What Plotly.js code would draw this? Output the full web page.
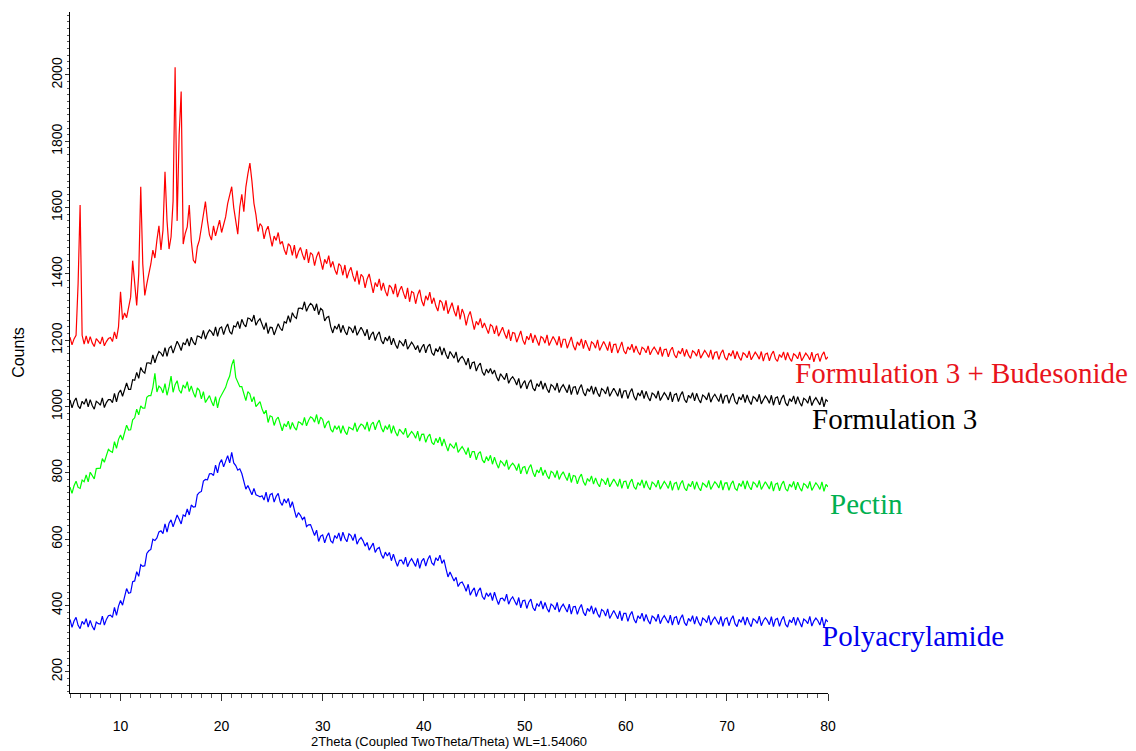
<!DOCTYPE html>
<html>
<head>
<meta charset="utf-8">
<script src="https://cdn.plot.ly/plotly-3.0.1.min.js"></script>
<style>
  html, body { margin: 0; padding: 0; background: #ffffff; }
  #chart { width: 1136px; height: 751px; }
</style>
</head>
<body>
<div id="chart"></div>
<script>
// 2-theta scan grid (degrees), one reading every 0.2 degree from 5 to 80
const twoThetaStart = 5;
const twoThetaStep = 0.2;

const seriesNames = ["Formulation 3 + Budesonide", "Formulation 3", "Pectin", "Polyacrylamide"];

// Counts (one row group per degree: x.0, x.2, x.4, x.6, x.8)
const formulation3Budesonide = [
  1209,1186,1204,1215,1370, 1608,1215,1188,1213,1190, 1211,1192,1181,1205,1197, 1189,1210,1183,1196,1205,
  1208,1196,1225,1204,1240, 1346,1262,1282,1268,1302, 1330,1440,1380,1305,1400, 1663,1430,1335,1370,1398,
  1430,1472,1448,1502,1545, 1472,1532,1708,1560,1475, 1512,1620,2023,1560,1820, 1950,1490,1522,1542,1608,
  1500,1442,1432,1482,1502, 1540,1582,1618,1560,1518, 1502,1545,1515,1538,1562, 1525,1548,1572,1612,1642,
  1663,1600,1558,1520,1602, 1640,1588,1662,1702,1734, 1680,1613,1578,1528,1552, 1543,1506,1531,1544,1511,
  1483,1514,1501,1525,1490, 1498,1473,1458,1491,1484, 1456,1487,1447,1467,1480, 1459,1442,1475,1433,1464,
  1458,1425,1452,1467,1434, 1413,1444,1431,1455,1420, 1438,1413,1398,1431,1424, 1396,1427,1387,1407,1420,
  1394,1377,1410,1368,1399, 1391,1358,1385,1400,1367, 1343,1374,1361,1385,1350, 1373,1348,1333,1366,1359,
  1339,1370,1330,1350,1363, 1342,1325,1358,1316,1347, 1343,1310,1337,1352,1319, 1303,1334,1321,1345,1310,
  1328,1303,1288,1321,1314, 1289,1320,1280,1300,1313, 1289,1272,1305,1263,1294, 1278,1245,1272,1287,1254,
  1232,1257,1246,1266,1237, 1252,1233,1220,1247,1242, 1219,1244,1212,1228,1239, 1220,1205,1232,1198,1223,
  1221,1194,1215,1228,1201, 1187,1212,1201,1221,1192, 1216,1197,1184,1211,1206, 1191,1216,1184,1200,1211,
  1200,1185,1212,1178,1203, 1203,1176,1197,1210,1183, 1170,1195,1184,1204,1175, 1200,1181,1168,1195,1190,
  1176,1201,1169,1185,1196, 1184,1169,1196,1162,1187, 1188,1161,1182,1195,1168, 1159,1180,1171,1188,1163,
  1183,1166,1156,1179,1174, 1162,1183,1156,1170,1179, 1169,1157,1180,1151,1172, 1173,1150,1169,1179,1156,
  1147,1168,1159,1176,1151, 1172,1155,1145,1168,1163, 1152,1173,1146,1160,1169, 1160,1148,1171,1142,1163,
  1165,1142,1161,1171,1148, 1140,1161,1152,1169,1144, 1166,1149,1139,1162,1157, 1147,1168,1141,1155,1164,
  1155,1143,1166,1137,1158, 1161,1138,1157,1167,1144, 1136,1157,1148,1165,1140, 1163,1146,1136,1159,1154,
  1144,1165,1138,1152,1161, 1153,1141,1164,1135,1156, 1159,1136,1155,1165,1142, 1150
];

const formulation3 = [
  1020,996,1015,1026,1002, 994,1016,1007,1024,999, 1021,1003,992,1016,1011, 1004,1026,997,1012,1021,
  1021,1012,1040,1014,1040, 1050,1031,1055,1071,1052, 1052,1081,1079,1103,1085, 1118,1106,1101,1131,1132,
  1129,1156,1132,1152,1166, 1161,1151,1178,1151,1176, 1182,1161,1183,1197,1185, 1169,1193,1186,1205,1182,
  1209,1194,1186,1213,1211, 1206,1230,1203,1220,1231, 1225,1214,1240,1212,1236, 1240,1217,1237,1249,1226,
  1218,1243,1240,1257,1235, 1263,1248,1240,1267,1265, 1256,1276,1245,1258,1265, 1248,1232,1253,1220,1239,
  1238,1216,1237,1250,1236, 1229,1256,1252,1274,1254, 1283,1271,1266,1296,1297, 1294,1316,1287,1302,1311,
  1305,1289,1310,1277,1296, 1290,1258,1269,1272,1240, 1222,1243,1233,1249,1223, 1245,1227,1216,1240,1235,
  1222,1244,1215,1230,1239, 1228,1213,1233,1201,1217, 1225,1199,1216,1225,1199, 1189,1209,1198,1213,1186,
  1206,1187,1175,1198,1192, 1182,1203,1173,1185,1194, 1185,1171,1184,1163,1178, 1188,1162,1181,1188,1162,
  1154,1175,1165,1181,1155, 1177,1157,1144,1166,1156, 1146,1165,1133,1145,1151, 1141,1125,1146,1113,1132,
  1134,1107,1123,1131,1104, 1094,1113,1101,1115,1098, 1110,1090,1077,1099,1089, 1081,1101,1070,1083,1090,
  1080,1065,1085,1055,1069, 1078,1053,1071,1081,1056, 1047,1069,1060,1077,1052, 1071,1053,1042,1066,1061,
  1049,1071,1042,1057,1066, 1055,1042,1066,1036,1058, 1060,1036,1055,1066,1042, 1032,1054,1045,1062,1037,
  1059,1041,1030,1054,1049, 1038,1060,1031,1046,1055, 1044,1031,1055,1025,1047, 1048,1024,1043,1054,1030,
  1019,1041,1032,1049,1024, 1046,1028,1017,1041,1036, 1025,1047,1018,1033,1042, 1033,1020,1044,1014,1036,
  1039,1015,1034,1045,1021, 1012,1034,1025,1042,1017, 1040,1022,1011,1035,1030, 1020,1042,1013,1028,1037,
  1028,1015,1039,1009,1031, 1034,1010,1029,1040,1016, 1007,1029,1020,1037,1012, 1035,1017,1006,1030,1025,
  1015,1037,1008,1023,1032, 1023,1010,1034,1004,1026, 1029,1005,1024,1035,1011, 1002,1024,1015,1032,1007,
  1030,1012,1001,1025,1020, 1010,1032,1003,1018,1027, 1018,1005,1029,999,1021, 1015
];

const pectin = [
  757,738,761,775,756, 753,778,773,794,773, 802,791,782,813,814, 814,843,832,852,871,
  865,862,894,874,901, 914,899,926,944,929, 930,960,966,992,975, 1002,995,995,1028,1033,
  1033,1058,1100,1044,1062, 1056,1041,1069,1034,1059, 1092,1043,1066,1078,1050, 1040,1065,1055,1075,1045,
  1062,1042,1028,1056,1049, 1023,1045,1012,1024,1033, 1015,1002,1030,996,1024, 1035,1048,1058,1078,1092,
  1125,1142,1088,1076,1060, 1060,1035,1018,1045,1038, 1014,1030,1000,1009,1015, 993,978,989,952,972,
  969,943,961,968,943, 927,948,939,956,931, 952,937,929,954,951, 944,967,942,958,969,
  965,953,976,947,968, 961,935,950,957,931, 923,942,931,942,919, 942,925,915,938,933,
  930,951,924,938,947, 943,931,954,925,946, 953,930,949,959,936, 923,942,931,946,919,
  942,923,911,932,925, 916,935,906,916,925, 917,904,926,896,916, 917,892,909,917,892,
  885,904,891,908,881, 902,883,866,888,881, 874,892,862,871,879, 869,855,876,845,864,
  864,839,858,864,839, 830,849,836,853,826, 847,828,814,836,830, 820,839,810,822,829,
  821,807,828,797,816, 819,796,815,825,802, 788,809,800,817,792, 809,792,782,805,800,
  786,807,780,794,803, 789,777,800,771,792, 790,767,786,796,773, 762,783,774,791,766,
  785,768,758,781,776, 764,785,758,772,781, 771,759,782,753,774, 775,752,771,781,758,
  750,771,762,779,754, 776,759,749,772,767, 757,778,751,765,774, 765,753,776,747,768,
  771,748,767,777,754, 746,767,758,775,750, 773,756,746,769,764, 756,777,750,764,773,
  766,754,777,748,769, 770,747,766,776,753, 747,768,759,776,751, 776,759,749,772,767,
  756,777,750,764,773, 763,751,774,745,766, 769,746,765,775,752, 745,766,757,774,749,
  772,755,745,768,763, 753,774,747,761,770, 762,750,773,744,765, 758
];

const polyacrylamide = [
  358,334,353,364,340, 330,352,343,360,335, 355,337,326,350,345, 344,368,341,358,369,
  371,364,394,370,398, 415,401,430,451,437, 439,472,474,502,488, 523,518,520,557,565,
  569,600,596,604,622, 625,617,646,621,648, 658,637,659,673,660, 646,673,669,691,673,
  703,697,698,734,741, 744,775,780,779,797, 798,792,823,800,829, 840,818,839,852,830,
  862,830,822,808,812, 798,771,751,762,749, 734,753,734,731,728, 731,718,742,712,734,
  738,712,729,738,712, 702,721,709,723,695, 713,688,665,680,672, 659,667,638,643,644,
  628,611,627,593,609, 613,589,608,619,595, 589,611,602,619,594, 621,603,592,616,611,
  596,616,585,598,605, 595,579,590,567,580, 588,560,571,575,554, 542,561,549,560,535,
  555,535,518,536,537, 524,546,517,532,541, 531,518,542,512,534, 542,519,539,551,528,
  522,544,535,552,527, 538,511,486,501,489, 474,485,457,468,471, 459,443,464,431,444,
  453,427,444,453,427, 418,438,427,438,415, 440,420,403,421,422, 413,434,404,418,426,
  415,401,424,393,414, 416,391,410,419,394, 384,406,397,414,389, 409,391,380,404,399,
  387,409,380,395,404, 393,380,404,374,396, 397,373,392,403,379, 369,391,382,399,374,
  393,375,364,388,383, 368,390,361,376,385, 373,360,384,354,376, 376,352,371,382,358,
  347,369,360,377,352, 373,355,344,368,363, 352,374,345,360,369, 360,347,371,341,363,
  366,342,361,372,348, 339,361,352,369,344, 367,349,338,362,357, 348,370,341,356,365,
  356,343,367,337,359, 363,339,358,369,345, 336,358,349,366,341, 365,347,336,360,355,
  346,368,339,354,363, 355,342,366,336,358, 361,337,356,367,343, 335,357,348,365,340,
  364,346,335,359,354, 345,367,338,353,362, 354,341,365,335,357, 351
];

const lineColors = ["#ff0000", "#000000", "#00ff00", "#0000ff"];
const labelColors = ["#e8141c", "#000000", "#00b050", "#0000ee"];

function grid(n) {
  const xs = [];
  for (let i = 0; i < n; i++) xs.push(Math.round((twoThetaStart + i * twoThetaStep) * 100) / 100);
  return xs;
}

const allSeries = [formulation3Budesonide, formulation3, pectin, polyacrylamide];
const traces = allSeries.map((ys, k) => ({
  type: "scatter",
  mode: "lines",
  name: seriesNames[k],
  x: grid(ys.length),
  y: ys,
  line: { color: lineColors[k], width: 1.2 },
  hoverinfo: "x+y+name"
}));

const labelPos = [
  { x: 0.9535, y: 0.470 },
  { x: 0.976, y: 0.402 },
  { x: 0.9996, y: 0.2775 },
  { x: 0.990, y: 0.0837 }
];

const annotations = seriesNames.map((name, k) => ({
  text: name,
  xref: "paper", yref: "paper",
  x: labelPos[k].x, y: labelPos[k].y,
  xanchor: "left", yanchor: "middle",
  showarrow: false,
  font: { family: "Liberation Serif, 'DejaVu Serif', serif", size: 29, color: labelColors[k] }
}));

const axisFont = "'Liberation Sans Narrow', 'Liberation Sans', Arial, sans-serif";

const layout = {
  width: 1136,
  height: 751,
  margin: { l: 70, r: 308, t: 12, b: 58 },
  paper_bgcolor: "#ffffff",
  plot_bgcolor: "#ffffff",
  showlegend: false,
  annotations: annotations,
  xaxis: {
    range: [5, 80],
    tick0: 0,
    dtick: 10,
    ticks: "outside",
    ticklen: 7,
    tickwidth: 1,
    tickcolor: "#333333",
    ticklabelstandoff: 13,
    minor: { dtick: 1, ticks: "outside", ticklen: 4, tickcolor: "#555555", showgrid: false },
    showline: true,
    linecolor: "#000000",
    linewidth: 1,
    showgrid: false,
    zeroline: false,
    tickfont: { family: axisFont, size: 14, color: "#000000" },
    title: { text: "2Theta (Coupled TwoTheta/Theta) WL=1.54060", font: { family: axisFont, size: 13, color: "#000000" }, standoff: 4 }
  },
  yaxis: {
    range: [136, 2190],
    tick0: 0,
    dtick: 200,
    ticks: "outside",
    ticklen: 4,
    tickwidth: 1,
    tickcolor: "#333333",
    tickangle: -90,
    ticklabelstandoff: -3,
    minor: { dtick: 20, ticks: "outside", ticklen: 2, tickcolor: "#555555", showgrid: false },
    showline: true,
    linecolor: "#000000",
    linewidth: 1,
    showgrid: false,
    zeroline: false,
    tickfont: { family: "'Liberation Sans', Arial, sans-serif", size: 14, color: "#000000" },
    title: { text: "Counts", font: { family: "'Liberation Sans', Arial, sans-serif", size: 16, color: "#000000" }, standoff: 20 }
  }
};

Plotly.newPlot("chart", traces, layout, { displayModeBar: false });
</script>
</body>
</html>
